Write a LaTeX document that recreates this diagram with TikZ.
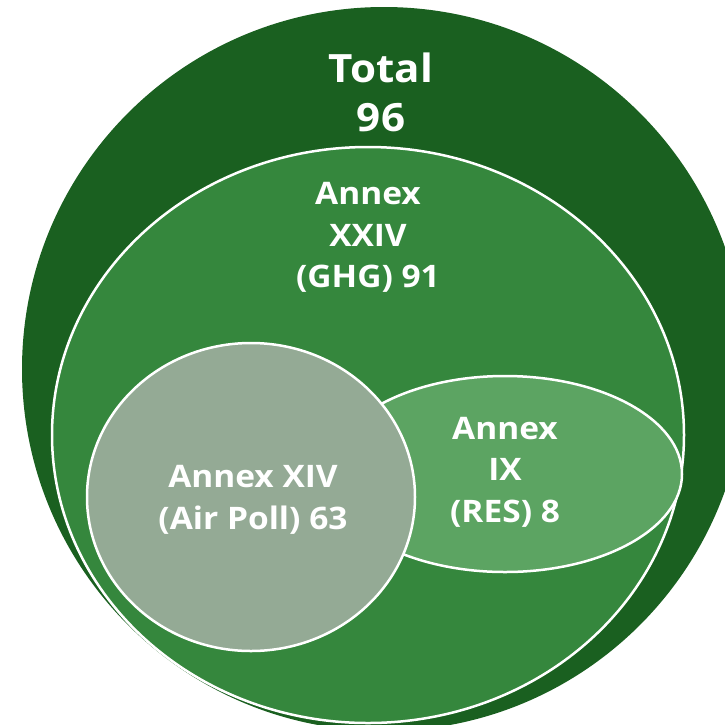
\documentclass[tikz,border=0pt]{standalone}
\usepackage{fontspec}
\setmainfont[FakeStretch=1.08]{Open Sans}
\usepackage{tikz}
\definecolor{totalgreen}{HTML}{1A6020}
\definecolor{ghggreen}{HTML}{35873D}
\definecolor{resgreen}{HTML}{5CA462}
\definecolor{airgray}{HTML}{94AA95}

\begin{document}
\begin{tikzpicture}[x=1pt, y=-1pt,
	venn/.style={draw=white, line width=2.5pt},
	lbl/.style={text=white, align=center, inner sep=0pt, font=\bfseries\fontsize{31}{41.5}\selectfont}]
	\useasboundingbox (0,0) rectangle (725,724);
	\clip (0,0) rectangle (725,724);
	\fill[totalgreen] (384,369) circle (362);
	\draw[venn, fill=ghggreen] (368,435) ellipse (316 and 288);
	\draw[venn, fill=resgreen] (505,474) ellipse (177 and 98);
	\draw[venn, fill=airgray] (251,497) ellipse (164 and 154);
	\node[lbl, font=\bfseries\fontsize{39}{49}\selectfont] (total) at (381,92.5) {Total\\96};
	\node[lbl] (ghg) at (368,237.5) {Annex\\XXIV\\(GHG) 91};
	\node[lbl] (air) at (253,500) {Annex XIV\\(Air Poll) 63};
	\node[lbl] (res) at (505,472) {Annex\\IX\\(RES) 8};
\end{tikzpicture}
\end{document}
